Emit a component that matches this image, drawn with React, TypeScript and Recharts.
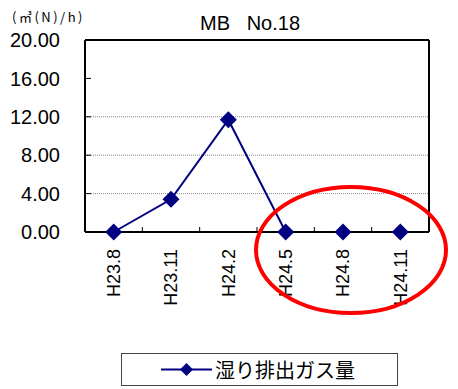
import React from "react";
import {LineChart, Line, XAxis, YAxis, CartesianGrid, Legend} from "recharts";

// survey periods (Heisei year.month)
const periods = ["H23.8", "H23.11", "H24.2", "H24.5", "H24.8", "H24.11"];
// wet exhaust gas flow, m3(N)/h
const wetGasFlow = [0, 3.4, 11.7, 0, 0, 0];
const yTicks = [0, 4, 8, 12, 16, 20];
const gridValues = [4, 8, 12];
const seriesName = "湿り排出ガス量";
const chartTitle = "MB   No.18";
const unitLabel = "(㎥(N)/h)";

const NAVY = "#000080";
const FONT = "'Liberation Sans', Arial, sans-serif";
const JP_FONT = "'Noto Sans CJK JP', sans-serif";

const data = periods.map((period, i) => ({period, flow: wetGasFlow[i]}));

function DiamondDot(props: any) {
	const {cx, cy} = props;
	if (cx == null || cy == null) return null;
	const r = 8.5;
	return <polygon points={`${cx},${cy - r} ${cx + r},${cy} ${cx},${cy + r} ${cx - r},${cy}`} fill={NAVY} />;
}

function XTick(props: any) {
	const {x, y, payload, index} = props;
	const axisY = y - 6;
	const half = payload.offset ?? 28.67;
	return (
		<g>
			{index < periods.length - 1 && (
				<line x1={x + half} x2={x + half} y1={axisY} y2={axisY - 5} stroke='#000' strokeWidth={1} />
			)}
			<text
				transform={`translate(${x},${axisY + 17}) rotate(-90)`}
				textAnchor='end'
				dy='0.36em'
				fontSize={18}
				fontFamily={FONT}
				fill='#000'
			>
				{payload.value}
			</text>
		</g>
	);
}

function YTick(props: any) {
	const {x, y, payload} = props;
	const axisX = x + 25;
	return (
		<g>
			<line x1={axisX} x2={axisX + 6} y1={y} y2={y} stroke='#000' strokeWidth={1} />
			<text x={x} y={y} dy='0.36em' textAnchor='end' fontSize={20} fontFamily={FONT} fill='#000'>
				{Number(payload.value).toFixed(2)}
			</text>
		</g>
	);
}

function LegendBox({payload}: any) {
	const item = payload?.[0];
	return (
		<div
			style={{
				boxSizing: "border-box",
				width: 277,
				height: 33,
				border: "1px solid #444",
				background: "#fff",
				display: "flex",
				alignItems: "center",
			}}
		>
			<svg width={93} height={31}>
				<line x1={39} x2={90} y1={15.5} y2={15.5} stroke={NAVY} strokeWidth={2} />
				<polygon points='64.5,9 71,15.5 64.5,22 58,15.5' fill={NAVY} />
			</svg>
			<span style={{fontFamily: JP_FONT, fontSize: 20, color: "#000", lineHeight: "31px"}}>{item?.value}</span>
		</div>
	);
}

export default function App() {
	return (
		<div style={{position: "absolute", left: 0, top: 0, width: 458, height: 389, background: "#fff"}}>
			<LineChart width={458} height={389} data={data} margin={{top: 40, right: 29, bottom: 97, left: 0}}>
				<CartesianGrid
					vertical={false}
					horizontalValues={gridValues}
					stroke='#888'
					strokeDasharray='1 1'
				/>
				{/* plot frame: top and right edges */}
				<CartesianGrid
					horizontalCoordinatesGenerator={({offset}: any) => [offset.top]}
					verticalCoordinatesGenerator={({offset}: any) => [offset.left + offset.width]}
					stroke='#000'
					strokeWidth={2}
				/>
				<XAxis
					dataKey='period'
					scale='band'
					height={60}
					tickSize={0}
					tickMargin={6}
					tickLine={false}
					interval={0}
					axisLine={{stroke: "#000", strokeWidth: 2}}
					tick={<XTick />}
				/>
				<YAxis
					domain={[0, 20]}
					ticks={yTicks}
					width={85}
					tickSize={0}
					tickMargin={25}
					tickLine={false}
					interval={0}
					axisLine={{stroke: "#000", strokeWidth: 2}}
					tick={<YTick />}
				/>
				<Legend
					verticalAlign='middle'
					layout='horizontal'
					wrapperStyle={{position: "absolute", left: 121, top: 353, width: 277, height: 33}}
					content={<LegendBox />}
				/>
				<Line
					dataKey='flow'
					name={seriesName}
					type='linear'
					stroke={NAVY}
					strokeWidth={2}
					dot={<DiamondDot />}
					activeDot={false}
					isAnimationActive={false}
				/>
			</LineChart>
			<svg
				width={458}
				height={389}
				style={{position: "absolute", left: 0, top: 0, pointerEvents: "none"}}
			>
				<text x={250} y={30} textAnchor='middle' fontSize={20} fontFamily={FONT} fill='#000' style={{whiteSpace: "pre"}}>
					{chartTitle}
				</text>
				<text x={12} y={22} fontSize={13} fontFamily={JP_FONT} letterSpacing={2.5} fill='#000'>
					{unitLabel}
				</text>
				<ellipse cx={351} cy={250} rx={95} ry={63} fill='none' stroke='#ff0000' strokeWidth={4} />
			</svg>
		</div>
	);
}
